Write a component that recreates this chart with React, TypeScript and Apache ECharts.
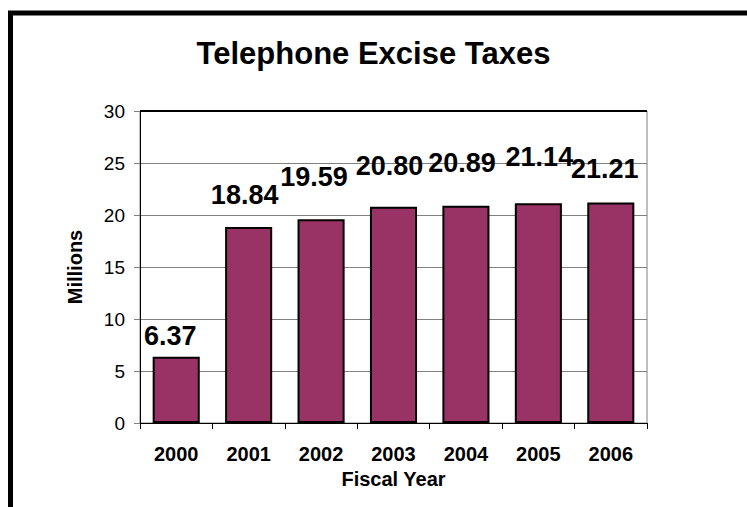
import React, { useEffect, useRef } from "react";
import * as echarts from "echarts";

const years = ["2000", "2001", "2002", "2003", "2004", "2005", "2006"];
const taxes = [6.37, 18.84, 19.59, 20.8, 20.89, 21.14, 21.21];
const labelTexts = ["6.37", "18.84", "19.59", "20.80", "20.89", "21.14", "21.21"];
const labelOffsets: [number, number][] = [
  [-6, -2],
  [-4, -14],
  [-7, -24],
  [-4, -22],
  [-4, -24],
  [1, -28],
  [-6, -15],
];
const yMax = 30;

const FONT = "Liberation Sans, Arial, Helvetica, sans-serif";

export default function App() {
  const ref = useRef<HTMLDivElement>(null);
  useEffect(() => {
    if (!ref.current) return;
    const chart = echarts.init(ref.current, null, { renderer: "svg" });
    const data = taxes.map((v, i) => ({
      value: v,
      label: {
        show: true,
        position: "top" as const,
        offset: labelOffsets[i],
        formatter: labelTexts[i],
      },
    }));
    chart.setOption({
      animation: false,
      backgroundColor: "#ffffff",
      title: {
        text: "Telephone Excise Taxes",
        left: "center",
        top: 33,
        textStyle: { fontFamily: FONT, fontSize: 31, fontWeight: "bold", color: "#000" },
      },
      graphic: [
        {
          type: "rect",
          shape: { x: 10.5, y: 13, width: 1000, height: 1000 },
          style: { fill: "none", stroke: "#000", lineWidth: 5 },
          silent: true,
        },
      ],
      grid: {
        left: 140,
        top: 111,
        right: 100,
        bottom: 84,
        show: true,
        borderColor: "#808080",
        borderWidth: 1,
        backgroundColor: "transparent",
      },
      xAxis: {
        type: "category",
        data: years,
        boundaryGap: true,
        name: "Fiscal Year",
        nameLocation: "middle",
        nameGap: 44,
        nameTextStyle: { fontFamily: FONT, fontSize: 20, fontWeight: "bold", color: "#000" },
        axisLine: { lineStyle: { color: "#000", width: 1 } },
        axisTick: { show: true, length: 6, lineStyle: { color: "#000" } },
        axisLabel: { fontFamily: FONT, fontSize: 20, fontWeight: "bold", color: "#000", margin: 21 },
      },
      yAxis: {
        type: "value",
        min: 0,
        max: yMax,
        interval: 5,
        name: "Millions",
        nameLocation: "middle",
        nameGap: 55,
        nameTextStyle: { fontFamily: FONT, fontSize: 20, fontWeight: "bold", color: "#000" },
        axisLine: { show: true, lineStyle: { color: "#000", width: 1 } },
        axisTick: { show: true, length: 6, lineStyle: { color: "#808080" } },
        axisLabel: { fontFamily: FONT, fontSize: 19, color: "#000", margin: 15 },
        splitLine: { show: true, lineStyle: { color: "#808080", width: 1 } },
      },
      series: [
        {
          type: "bar",
          data,
          barWidth: "65%",
          itemStyle: { color: "#993366", borderColor: "#000", borderWidth: 2 },
          label: {
            show: true,
            fontFamily: FONT,
            fontSize: 27,
            fontWeight: "bold",
            color: "#000",
          },
          markLine: {
            silent: true,
            symbol: "none",
            label: { show: false },
            lineStyle: { color: "#000", width: 2, type: "solid" },
            data: [{ yAxis: yMax }],
          },
        },
      ],
    });
    return () => chart.dispose();
  }, []);
  return (
    <div
      ref={ref}
      style={{ position: "fixed", left: 0, top: 0, width: 747, height: 507 }}
    />
  );
}
